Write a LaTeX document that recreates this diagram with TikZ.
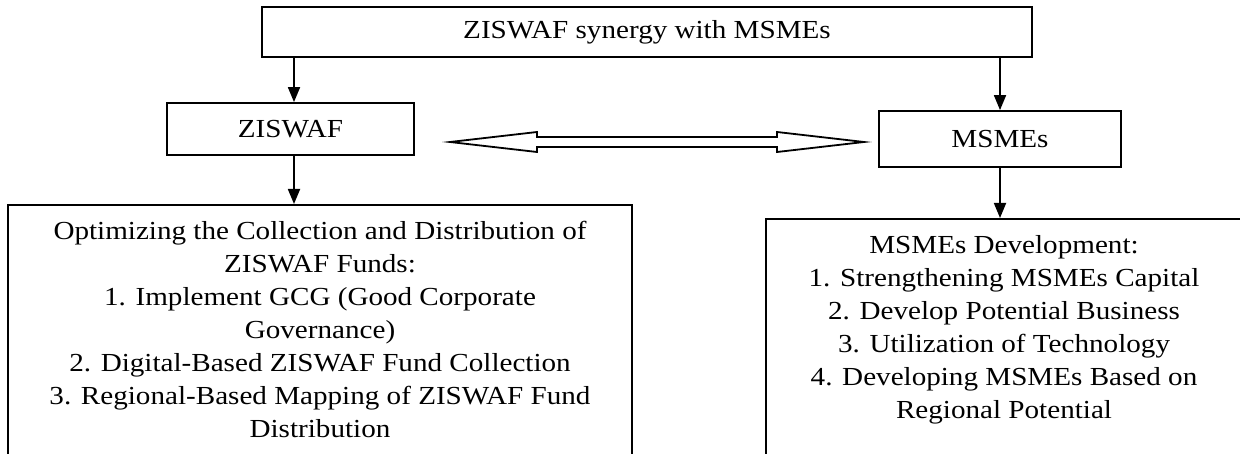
\documentclass[tikz,border=0pt]{standalone}
\usepackage{fontspec}
\setmainfont{Liberation Serif}[FakeStretch=1.12]
\usetikzlibrary{arrows.meta,calc}
\begin{document}
\begin{tikzpicture}[x=0.5pt,y=-0.5pt,
  box/.style={draw,line width=0.9pt,inner sep=0pt,font=\fontsize{13}{16.5}\selectfont},
  arr/.style={line width=0.9pt,-{Triangle[length=7.5pt,width=6pt]}},
  txt/.style={align=center,inner sep=0pt,font=\fontsize{13}{16.5}\selectfont},
  dbl/.style={draw,line width=0.9pt,fill=white,line join=miter}
]
\useasboundingbox (0,0) rectangle (1240,454);
\clip (0,0) rectangle (1240,454);
% boxes
\node[box,minimum width=385pt,minimum height=25pt] (top) at (647,32) {ZISWAF synergy with MSMEs};
\node[box,minimum width=123.5pt,minimum height=26pt] (ziswaf) at (290.5,129) {ZISWAF};
\node[box,minimum width=121pt,minimum height=28pt] (msmes) at (1000,139) {MSMEs};
\node[box,minimum width=312pt,minimum height=150pt,anchor=north] (lbox) at (320,204) {};
\node[box,minimum width=242pt,minimum height=150pt,anchor=north] (rbox) at (1008,218) {};
% texts
\node[txt,anchor=north] (ltext) at (320,221) {Optimizing the Collection and Distribution of\\ZISWAF Funds:\\1. Implement GCG (Good Corporate\\Governance)\\2. Digital-Based ZISWAF Fund Collection\\3. Regional-Based Mapping of ZISWAF Fund\\Distribution};
\node[txt,anchor=north] (rtext) at (1004,235) {MSMEs Development:\\1. Strengthening MSMEs Capital\\2. Develop Potential Business\\3. Utilization of Technology\\4. Developing MSMEs Based on\\Regional Potential};
% connectors
\coordinate (lx) at (294,0);
\draw[arr] (top.south -| lx) -- (ziswaf.north -| lx);
\draw[arr] (ziswaf.south -| lx) -- (lbox.north -| lx);
\draw[arr] (top.south -| msmes.north) -- (msmes.north);
\draw[arr] (msmes.south) -- (rbox.north -| msmes.south);
% double arrow
\coordinate (dl) at (450,142);
\coordinate (dr) at (864,142);
\draw[dbl] (dl) -- ($(dl)+(87,-10)$) -- ($(dl)+(87,-5)$) -- ($(dr)+(-87,-5)$) -- ($(dr)+(-87,-10)$) -- (dr)
  -- ($(dr)+(-87,10)$) -- ($(dr)+(-87,5)$) -- ($(dl)+(87,5)$) -- ($(dl)+(87,10)$) -- cycle;
\end{tikzpicture}
\end{document}
